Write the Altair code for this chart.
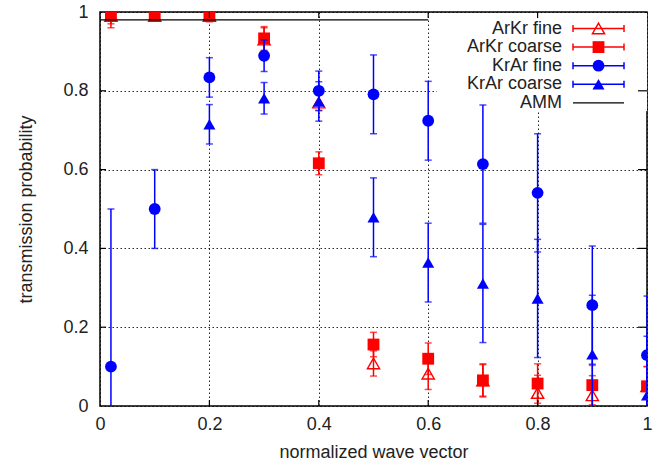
import altair as alt
import pandas as pd

# normalized wave vector at which the transmission was sampled
q = [0.02, 0.1, 0.2, 0.3, 0.4, 0.5, 0.6, 0.7, 0.8, 0.9, 1.0]

# ArKr interface, fine and coarse resolution (value, error half-width)
arkr_fine = [0.99, 0.99, 0.99, 0.93, 0.77, 0.108, 0.082, 0.065, 0.033, 0.027, 0.05]
arkr_fine_err = [0.02, 0.01, 0.01, 0.03, 0.02, 0.032, 0.04, 0.04, 0.045, 0.05, 0.05]
arkr_coarse = [0.99, 0.99, 0.99, 0.933, 0.616, 0.156, 0.12, 0.065, 0.057, 0.053, 0.05]
arkr_coarse_err = [0.03, 0.01, 0.015, 0.03, 0.029, 0.031, 0.04, 0.042, 0.05, 0.05, 0.05]

# KrAr interface, fine and coarse resolution
krar_fine = [0.10, 0.50, 0.834, 0.889, 0.80, 0.791, 0.724, 0.614, 0.541, 0.256, 0.129]
krar_fine_err = [0.40, 0.10, 0.05, 0.04, 0.05, 0.10, 0.10, 0.15, 0.15, 0.15, 0.15]
krar_coarse = [None, None, 0.715, 0.781, 0.773, 0.479, 0.364, 0.311, 0.273, 0.131, 0.027]
krar_coarse_err = [None, None, 0.05, 0.04, 0.05, 0.10, 0.10, 0.15, 0.15, 0.15, 0.15]

# acoustic mismatch model prediction
amm_level = 0.98
amm_q = [0.0, 0.6]

tick_values = [0, 0.2, 0.4, 0.6, 0.8, 1.0]
inner_ticks = [0.2, 0.4, 0.6, 0.8]

RED = "#ff0000"
BLUE = "#0000ff"
FONT = "Liberation Sans"
TEXT = "#222222"
W, H = 547, 394

series = [
    ("ArKr fine", arkr_fine, arkr_fine_err, RED, "triangle-up", False, 150),
    ("ArKr coarse", arkr_coarse, arkr_coarse_err, RED, "square", True, 140),
    ("KrAr fine", krar_fine, krar_fine_err, BLUE, "circle", True, 140),
    ("KrAr coarse", krar_coarse, krar_coarse_err, BLUE, "triangle-up", True, 145),
]

xscale = alt.Scale(domain=[0, 1], nice=False, zero=False)
yscale = alt.Scale(domain=[0, 1], nice=False, zero=False)

common_axis = dict(
    values=tick_values,
    format=".1~f",
    tickSize=0,
    domain=False,
    grid=True,
    gridColor="#000000",
    gridDash=[1.5, 2.5],
    gridWidth=1,
    gridOpacity=0.85,
    labelFont=FONT,
    labelFontSize=18,
    labelColor=TEXT,
    titleFont=FONT,
    titleFontSize=18,
    titleFontWeight="normal",
    titleColor=TEXT,
)
xaxis = alt.Axis(
    title="normalized wave vector",
    labelPadding=9,
    labelFlush=False,
    titleX=W / 2,
    titleY=46,
    titleBaseline="middle",
    **common_axis,
)
yaxis = alt.Axis(
    title="transmission probability",
    labelPadding=12,
    labelFlush=False,
    titleX=-74,
    titleY=H / 2,
    titleAngle=-90,
    titleAlign="center",
    titleBaseline="middle",
    **common_axis,
)


def X(field):
    return alt.X(field, type="quantitative", scale=xscale, axis=xaxis)


def Y(field):
    return alt.Y(field, type="quantitative", scale=yscale, axis=yaxis)


layers = []

# opaque key background (sits over the grid, under the data)
layers.append(
    alt.Chart(pd.DataFrame({"k": [0]}))
    .mark_rect(fill="white", stroke=None)
    .encode(x=alt.value(337), x2=alt.value(W), y=alt.value(1), y2=alt.value(99))
)

# data series with error bars
for name, vals, errs, color, shape, filled, size in series:
    rows = [
        {"q": qq, "p": v, "lo": v - e, "hi": v + e}
        for qq, v, e in zip(q, vals, errs)
        if v is not None
    ]
    df = pd.DataFrame(rows)
    base = alt.Chart(df)
    layers.append(
        base.mark_rule(color=color, strokeWidth=1.5, clip=True).encode(
            x=X("q"), y=Y("lo"), y2="hi"
        )
    )
    for end in ("lo", "hi"):
        layers.append(
            base.mark_tick(
                color=color, orient="horizontal", size=7, thickness=1.5, clip=True
            ).encode(x=X("q"), y=Y(end))
        )
    layers.append(
        base.mark_point(
            shape=shape,
            filled=filled,
            color=color,
            size=size,
            opacity=1,
            strokeWidth=1.4,
            clip=True,
        ).encode(x=X("q"), y=Y("p"))
    )

# AMM reference level
layers.append(
    alt.Chart(pd.DataFrame({"q0": [amm_q[0]], "q1": [amm_q[1]], "p": [amm_level]}))
    .mark_rule(color="black", strokeWidth=1.2)
    .encode(x=X("q0"), x2="q1", y=Y("p"))
)

# inward tick marks on all four sides of the frame
tick_df = pd.DataFrame({"t": inner_ticks})
TL = 6
layers.append(
    alt.Chart(tick_df).mark_rule(color="black", strokeWidth=1.2)
    .encode(x=X("t"), y=alt.value(H), y2=alt.value(H - TL))
)
layers.append(
    alt.Chart(tick_df).mark_rule(color="black", strokeWidth=1.2)
    .encode(x=X("t"), y=alt.value(0), y2=alt.value(TL))
)
layers.append(
    alt.Chart(tick_df).mark_rule(color="black", strokeWidth=1.2)
    .encode(y=Y("t"), x=alt.value(0), x2=alt.value(TL))
)
layers.append(
    alt.Chart(tick_df).mark_rule(color="black", strokeWidth=1.2)
    .encode(y=Y("t"), x=alt.value(W), x2=alt.value(W - 9))
)

# key: label on the left, error-bar sample with marker on the right
key_entries = [(s[0], s[3], s[4], s[5], s[6]) for s in series] + [
    ("AMM", "black", None, None, None)
]
KEY_TEXT_X, KEY_L, KEY_R = 462, 473, 524
KEY_MID = (KEY_L + KEY_R) / 2
for i, (label, color, shape, filled, size) in enumerate(key_entries):
    ky = 16.5 + 18.6 * i
    one = alt.Chart(pd.DataFrame({"label": [label]}))
    layers.append(
        one.mark_text(
            align="right", baseline="middle", font=FONT, fontSize=18, color=TEXT
        ).encode(x=alt.value(KEY_TEXT_X), y=alt.value(ky), text="label:N")
    )
    layers.append(
        one.mark_rule(color=color, strokeWidth=1.5 if shape else 1.2).encode(
            x=alt.value(KEY_L), x2=alt.value(KEY_R), y=alt.value(ky)
        )
    )
    if shape is None:
        continue
    for cx in (KEY_L, KEY_R):
        layers.append(
            one.mark_rule(color=color, strokeWidth=1.5).encode(
                x=alt.value(cx), y=alt.value(ky - 3.5), y2=alt.value(ky + 3.5)
            )
        )
    layers.append(
        one.mark_point(
            shape=shape, filled=filled, color=color, size=size, opacity=1,
            strokeWidth=1.4,
        ).encode(x=alt.value(KEY_MID), y=alt.value(ky))
    )

chart = (
    alt.layer(*layers)
    .properties(
        width=W,
        height=H,
        autosize=alt.AutoSizeParams(type="none"),
        padding={"left": 100, "top": 12, "right": 14, "bottom": 60},
        background="white",
    )
    .configure_view(stroke="black", strokeWidth=1.5)
)

chart.save("out.html", embed_options={"renderer": "svg", "actions": False})
